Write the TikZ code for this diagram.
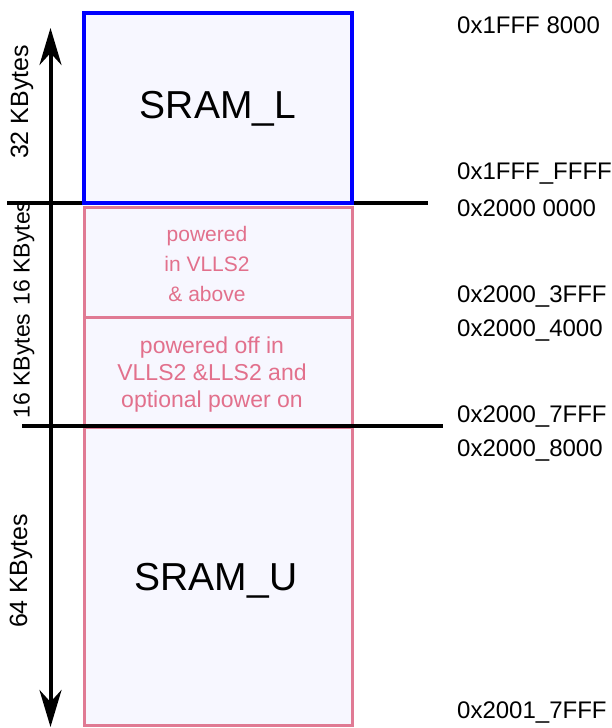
\documentclass[tikz,border=0pt]{standalone}
\usepackage{fontspec}
\setmainfont{Liberation Sans}
\usetikzlibrary{arrows.meta}
\definecolor{pinkline}{RGB}{224,122,148}
\definecolor{pinktext}{RGB}{226,112,140}
\definecolor{memfill}{RGB}{247,247,255}
\definecolor{bluel}{RGB}{0,0,255}
\begin{document}
\begin{tikzpicture}[x=1pt,y=-1pt,
  membox/.style={draw=pinkline, line width=3pt, fill=memfill, minimum width=268pt, inner sep=0pt, rectangle},
  bigtext/.style={font=\fontsize{39}{39}\selectfont},
  pinklabel/.style={text=pinktext, align=center},
  addr/.style={anchor=base west, font=\fontsize{24}{24}\selectfont, inner sep=0pt},
  sizelabel/.style={rotate=90, inner sep=0pt},
  sep/.style={line width=4pt, draw=black},
  dimarrow/.style={line width=4pt, {Stealth[length=37pt,width=22pt,inset=12pt]}-{Stealth[length=37pt,width=22pt,inset=12pt]}}
]
\useasboundingbox (0,0) rectangle (612,728);
% upper separator (behind boxes)
\coordinate (s1a) at (7,202.5);
\coordinate (s1b) at (428,202.5);
\draw[sep] (s1a) -- (s1b);
% boxes
\node[membox, draw=bluel, line width=4pt, minimum height=190.5pt] (sraml) at (218,107.75) {};
\node[membox, minimum height=110pt] (pwr) at (218,262.5) {};
\node[membox, minimum height=109.5pt] (poff) at (218,372.25) {};
\node[membox, minimum height=298pt] (sramu) at (218,576) {};
% texts in boxes
\node[bigtext] (tl) at (218,109) {SRAM\_L};
\node[bigtext] (tu) at (216,581) {SRAM\_U};
\node[pinklabel, font=\fontsize{21}{30}\selectfont] (t1) at (207,264) {powered\\in VLLS2\\\& above};
\node[pinklabel, font=\fontsize{23}{27}\selectfont] (t2) at (212,375) {powered off in\\VLLS2 \&LLS2 and\\optional power on};
% lower separator (over boxes)
\coordinate (s2a) at (22,426);
\coordinate (s2b) at (443,426);
\draw[sep] (s2a) -- (s2b);
% dimension arrow
\coordinate (atop) at (50.5,28);
\coordinate (abot) at (50.5,727);
\draw[dimarrow] (atop) -- (abot);
% size labels
\node[sizelabel, font=\fontsize{25}{25}\selectfont] (l32) at (22,102) {32 KBytes};
\node[sizelabel, font=\fontsize{23}{23}\selectfont] (l16a) at (24,253) {16 KBytes};
\node[sizelabel, font=\fontsize{23}{23}\selectfont] (l16b) at (24,366) {16 KBytes};
\node[sizelabel, font=\fontsize{25}{25}\selectfont] (l64) at (21,571) {64 KBytes};
% addresses
\node[addr] (a1) at (457,33) {0x1FFF 8000};
\node[addr] (a2) at (457,179) {0x1FFF\_FFFF};
\node[addr] (a3) at (457,216) {0x2000 0000};
\node[addr] (a4) at (457,302) {0x2000\_3FFF};
\node[addr] (a5) at (457,336) {0x2000\_4000};
\node[addr] (a6) at (457,422) {0x2000\_7FFF};
\node[addr] (a7) at (457,456) {0x2000\_8000};
\node[addr] (a8) at (457,718) {0x2001\_7FFF};
\end{tikzpicture}
\end{document}
